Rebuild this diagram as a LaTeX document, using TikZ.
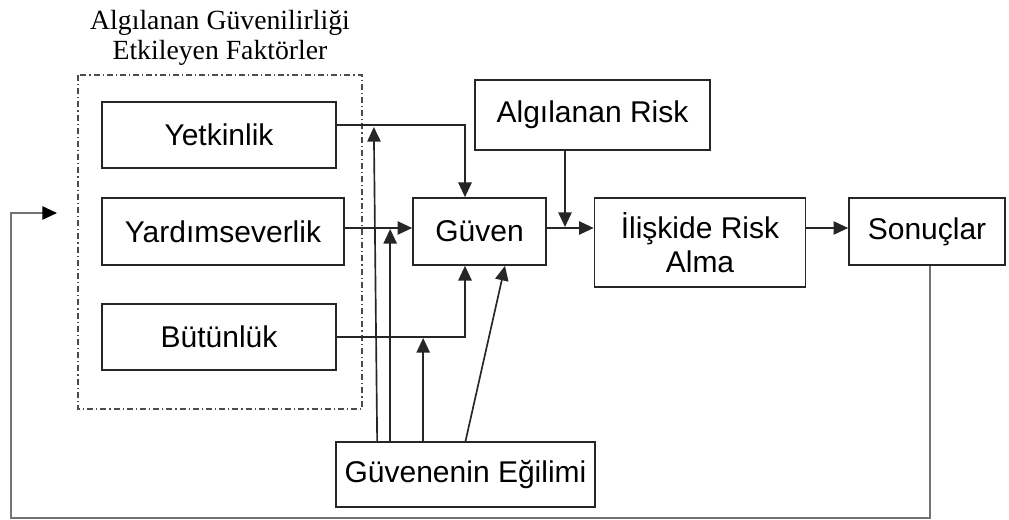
\documentclass[tikz,border=0pt]{standalone}
\usepackage{fontspec}
\setmainfont{Liberation Sans}
\newfontfamily\titlefont{Liberation Serif}
\usetikzlibrary{arrows.meta,calc}

\tikzset{
  box/.style={draw=black!85, line width=1.25pt, rectangle, inner sep=0pt, align=center,
              font=\fontsize{22.5}{25.5}\selectfont},
  sz/.style 2 args={minimum width=#1*0.75pt, minimum height=#2*0.75pt},
  link/.style={draw=black!85, line width=1.25pt},
  arr/.style={link, -{Triangle[length=11pt,width=10pt]}},
  feedback/.style={draw=black!55, line width=1.25pt, -{Triangle[length=11pt,width=10pt,color=black]}},
  groupframe/.style={draw=black!70, line width=1.1pt, dash pattern=on 4.5pt off 2.2pt on 1pt off 2.2pt},
}

\begin{document}
\begin{tikzpicture}[x=0.75pt, y=-0.75pt]
  \useasboundingbox (0,0) rectangle (1009,520);

  % heading of the factor group
  \node[align=center, font=\titlefont\fontsize{20.8}{22.5}\selectfont] (title) at (220,38)
    {Algılanan Güvenilirliği\\Etkileyen Faktörler};

  % dash-dotted frame around the factors
  \draw[groupframe] (78,75) rectangle (362,409);

  % boxes
  \node[box, sz={234}{66}]  (yet)  at (219,135)   {Yetkinlik};
  \node[box, sz={242}{67}]  (yard) at (223,231.5) {Yardımseverlik};
  \node[box, sz={234}{66}]  (but)  at (219,337)   {Bütünlük};
  \node[box, sz={133}{67}]  (guv)  at (479.5,231.5) {Güven};
  \node[box, sz={235}{70}]  (risk) at (592.5,115) {Algılanan Risk};
  \node[box, sz={211}{89}]  (ilis) at (700,242.5) {İlişkide Risk\\Alma};
  \node[box, sz={156}{67}]  (son)  at (927,231.5) {Sonuçlar};
  \node[box, sz={259}{65}]  (egi)  at (465.5,474.5) {Güvenenin Eğilimi};

  % helper levels for the connectors
  \coordinate (kY) at (465,125);
  \coordinate (kM) at (0,228);
  \coordinate (kM2) at (0,229);
  \coordinate (kB) at (0,337);
  \coordinate (kB2) at (0,338);
  \coordinate (kR) at (0,227);
  \coordinate (e1) at ($(egi.north west)+(42,0)$);
  \coordinate (e2) at ($(egi.north west)+(55,0)$);
  \coordinate (e3) at ($(egi.north west)+(88,0)$);
  \coordinate (r1) at ($(risk.south)+(-27.5,0)$);

  % factors into trust
  \draw[arr] (yet.east |- kY) -| (guv.north -| kY);
  \draw[arr] (yard.east |- kM) -- (guv.west |- kM);
  \draw[arr] (but.east |- kB) -| (guv.south -| kY);

  % disposition to trust
  \draw[arr] (e1) -- ($(yet.east)+(37,-8)$);
  \draw[arr] (e2) -- (e2 |- kM2);
  \draw[arr] (e3) -- (e3 |- kB2);
  \draw[arr] (egi.north) -- ($(guv.south)+(25.5,0)$);

  % trust, perceived risk and outcomes
  \draw[arr] (guv.east |- kM) -- (ilis.west |- kM);
  \draw[arr] (r1) -- (r1 |- kR);
  \draw[arr] (ilis.east |- kM) -- (son.west |- kM);

  % feedback loop
  \coordinate (fbEnd) at (57,213);
  \draw[feedback] ($(son.south)+(3,0)$) -- ++(0,252) -| (11,213) -- (fbEnd);
\end{tikzpicture}
\end{document}
